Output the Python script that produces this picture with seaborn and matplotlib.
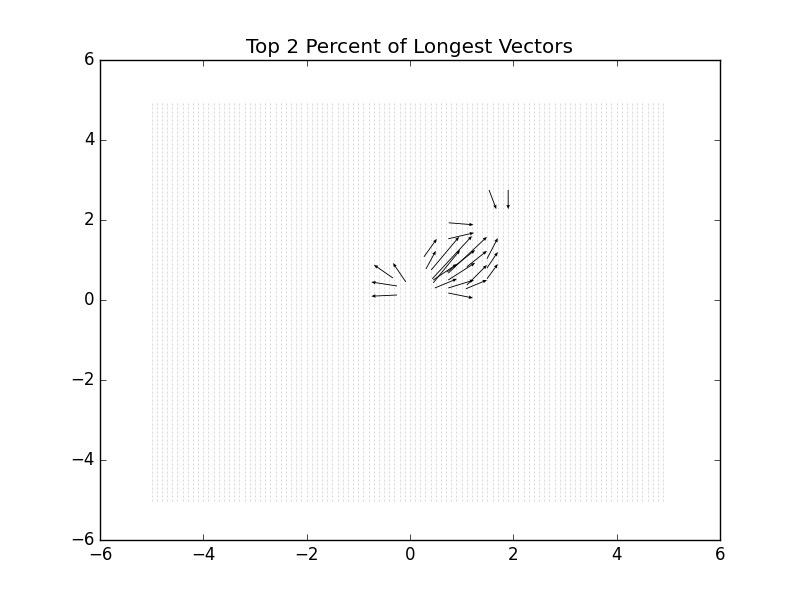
import numpy as np
import pandas as pd
import seaborn as sns
import matplotlib
matplotlib.use('Agg')
import matplotlib.pyplot as plt

# Background sample grid (every point of the field, drawn faint)
grid_x = np.arange(-5.0, 5.0, 0.1)
grid_y = np.arange(-5.0, 5.0, 0.1)

# Longest vectors: tail position and components
tail_x = [1.53, 1.90, 0.75, 0.74, 0.27, 0.31, 0.41, 0.43, 0.74, 1.49, 0.45, 1.10, 1.49,
          1.49, 1.10, 0.48, 0.74, 1.08, 0.74, -0.08, -0.33, -0.25, -0.25, 0.45, 0.74, 0.72]
tail_y = [2.75, 2.75, 1.93, 1.53, 1.08, 0.78, 0.75, 0.53, 0.67, 1.03, 0.43, 0.83, 0.80,
          0.53, 0.375, 0.30, 0.30, 0.28, 0.175, 0.45, 0.55, 0.35, 0.125, 0.50, 0.50, 0.70]
u = [0.14, 0.00, 0.48, 0.50, 0.25, 0.19, 0.54, 0.77, 0.75, 0.21, 0.52, 0.39, 0.21,
     0.21, 0.39, 0.43, 0.50, 0.41, 0.48, -0.25, -0.37, -0.50, -0.50, 0.46, 0.52, 0.54]
v = [-0.48, -0.48, -0.05, 0.15, 0.45, 0.45, 0.83, 1.07, 0.91, 0.52, 0.82, 0.40, 0.40,
     0.37, 0.50, 0.23, 0.20, 0.22, -0.125, 0.475, 0.33, 0.10, -0.03, 0.40, 0.43, 0.55]

plt.style.use('classic')
fig, ax = plt.subplots(figsize=(8, 6), dpi=100)
fig.patch.set_facecolor('white')

gx, gy = np.meshgrid(grid_x, grid_y)
df_grid = pd.DataFrame({'x': gx.ravel(), 'y': gy.ravel()})
sns.scatterplot(data=df_grid, x='x', y='y', marker='|', s=2.5, linewidth=0.6,
                color='0.82', ax=ax, legend=False)

ax.quiver(tail_x, tail_y, u, v, angles='xy', scale_units='xy', scale=1,
          color='black', width=0.0014, headwidth=4, headlength=5, headaxislength=4.5)

ax.set_xlim(-6, 6)
ax.set_ylim(-6, 6)
ax.set_xlabel('')
ax.set_ylabel('')
ax.set_title('Top 2 Percent of Longest Vectors')

fig.savefig('out.png', dpi=100)
